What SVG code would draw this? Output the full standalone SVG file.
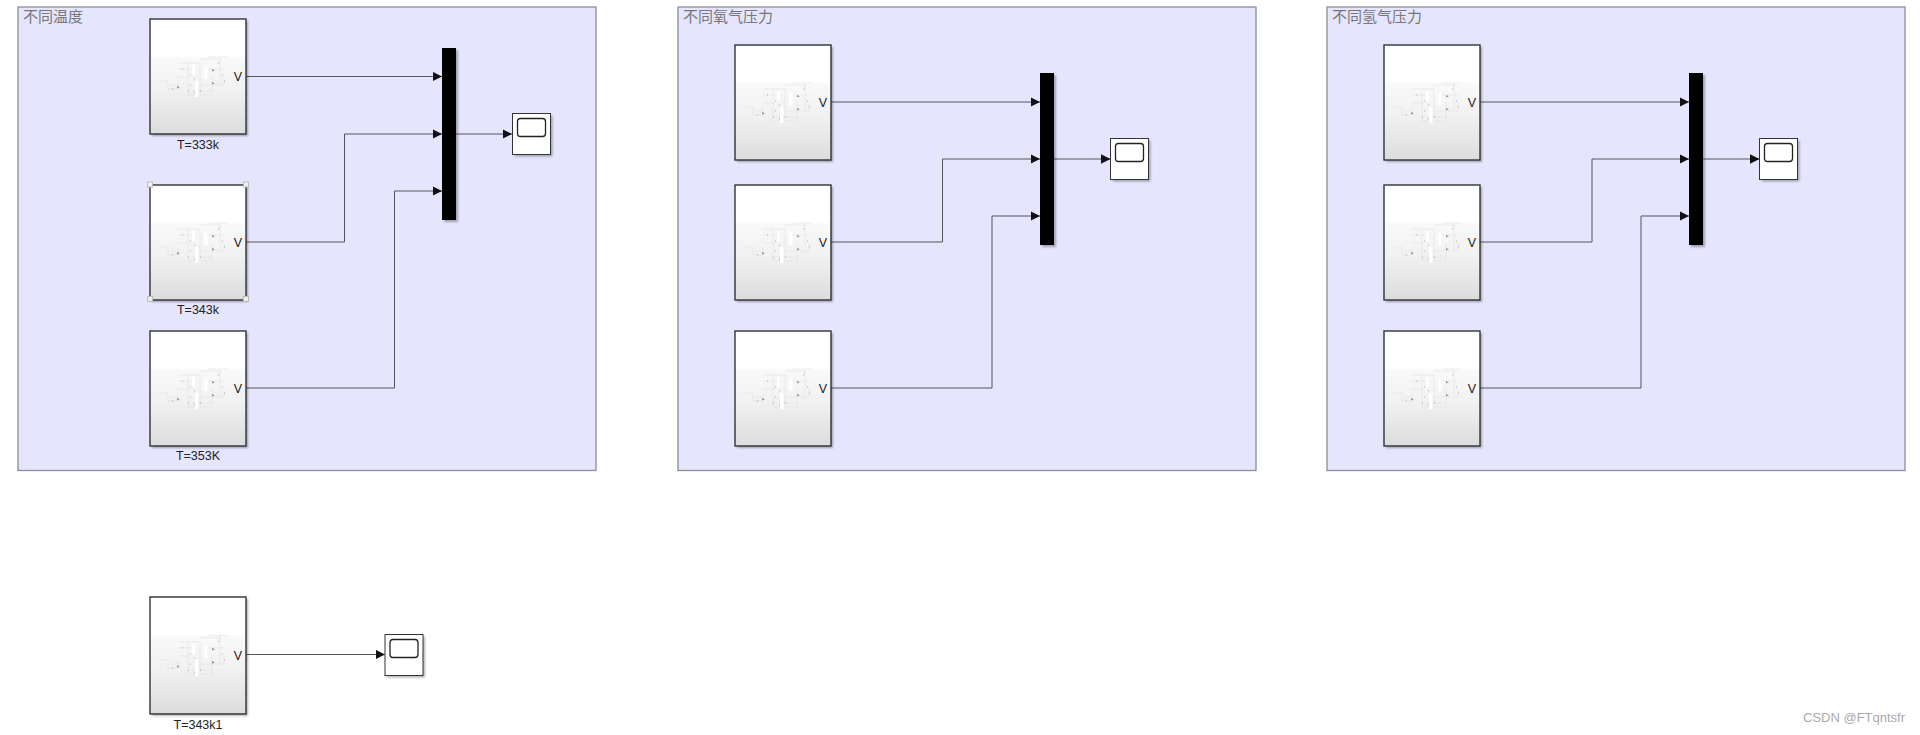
<svg xmlns="http://www.w3.org/2000/svg" width="1920" height="735" viewBox="0 0 1920 735">
<style>
.panel{fill:#e5e5fe;stroke:#8c8c9c;stroke-width:1.3}
.ptitle{font:15px "Noto Sans CJK SC","Liberation Sans",sans-serif;fill:#777}
.lbl{font:12.5px "Liberation Sans",sans-serif;fill:#222;text-anchor:middle}
.v{font:12.5px "Liberation Sans",sans-serif;fill:#222;text-anchor:end}
.blk{fill:url(#g);stroke:#333;stroke-width:1.400}
.sh{fill:#000;opacity:.3;filter:url(#b)}
.wire{fill:none;stroke:#55555f;stroke-width:1;marker-end:url(#a)}
.th{fill:none;stroke:#dedede;stroke-width:.5}
.sel{fill:#eee;stroke:#bbb;stroke-width:1}
</style>
<defs>
<linearGradient id="g" x1="0" y1="0" x2="0" y2="1">
<stop offset="0" stop-color="#fff"/><stop offset=".32" stop-color="#fff"/><stop offset=".34" stop-color="#f9f9f9"/><stop offset=".62" stop-color="#f1f1f1"/><stop offset="1" stop-color="#dcdcdc"/>
</linearGradient>
<filter id="b" x="-20%" y="-20%" width="140%" height="140%"><feGaussianBlur stdDeviation="1"/></filter>
<marker id="a" markerUnits="userSpaceOnUse" markerWidth="10" markerHeight="10" refX="9.500" refY="5" orient="auto"><path d="M0 0.200L9.500 5L0 9.800Z" fill="#111"/></marker>
<g id="thumb">
<path class="th" d="M10 62H18V70H28V68M20 66H28M28 44H50V72M28 50H46M28 58H40M28 62V70M38 44V76H58M50 40H70V66M58 38H78M58 50H74M50 66H74V58M42 72H62M62 58V78M70 38V44"/>
<rect x="45" y="62" width="3.500" height="16" fill="#fff"/><rect x="54" y="48" width="3.500" height="12" fill="#fff"/><rect x="42" y="46" width="3" height="10" fill="#fff"/>
<path d="M27 67l3 1.300l-3 1.300zM62 50l3 1.300l-3 1.300zM62 63l3 1.300l-3 1.300z" fill="#999"/>
<path d="M22 70h1M32 50h1M40 56h1M40 66h1M44 60h1M38 72h1M44 74h1M50 72h1M68 44h1M72 56h1M74 62h1" stroke="#999" stroke-width=".8"/>
</g>
<g id="sub">
<rect class="sh" x="2" y="2" width="96" height="115"/>
<rect class="blk" width="96" height="115"/>
<use href="#thumb"/>
<text class="v" x="92" y="62">V</text>
</g>
<g id="muxb"><rect class="sh" x="2" y="2" width="14" height="172"/><rect width="14" height="172" fill="#000"/></g>
<g id="scopeb">
<rect class="sh" x="2" y="2" width="38" height="41"/>
<rect width="38" height="41" fill="#fff" stroke="#333" stroke-width="1"/>
<rect x="5" y="5" width="28" height="18" rx="3" fill="#fff" stroke="#222" stroke-width="1.300"/>
</g>
</defs>
<rect width="1920" height="735" fill="#fff"/>

<g id="panel-temp"><rect class="panel" x="18" y="7" width="578" height="463.500"/><text class="ptitle" x="23" y="22">不同温度</text></g>
<g id="panel-o2"><rect class="panel" x="678" y="7" width="578" height="463.500"/><text class="ptitle" x="683" y="22">不同氧气压力</text></g>
<g id="panel-h2"><rect class="panel" x="1327" y="7" width="578" height="463.500"/><text class="ptitle" x="1332" y="22">不同氢气压力</text></g>

<g id="connectors">
<path class="wire" d="M246 76.500H442"/>
<path class="wire" d="M246 242H344.500V134H442"/>
<path class="wire" d="M246 388H394.500V191H442"/>
<path class="wire" d="M456 134H512"/>
<path class="wire" d="M831 102H1040"/>
<path class="wire" d="M831 242H942.500V159H1040"/>
<path class="wire" d="M831 388H992V216H1040"/>
<path class="wire" d="M1054 159H1110.500"/>
<path class="wire" d="M1480 102H1689"/>
<path class="wire" d="M1480 242H1592V159H1689"/>
<path class="wire" d="M1480 388H1641V216H1689"/>
<path class="wire" d="M1703 159H1759.500"/>
<path class="wire" d="M246 654.500H385"/>
</g>

<g id="t333"><use href="#sub" x="150" y="19"/><text class="lbl" x="198" y="149">T=333k</text></g>
<g id="t343"><use href="#sub" x="150" y="185"/>
<rect class="sel" x="147.500" y="182" width="5" height="5"/><rect class="sel" x="243.500" y="182" width="5" height="5"/><rect class="sel" x="147.500" y="296.500" width="5" height="5"/><rect class="sel" x="243.500" y="296.500" width="5" height="5"/>
<text class="lbl" x="198" y="314">T=343k</text></g>
<g id="t353"><use href="#sub" x="150" y="331"/><text class="lbl" x="198" y="460">T=353K</text></g>
<g id="mux1"><use href="#muxb" x="442" y="48"/></g>
<g id="scope1"><use href="#scopeb" x="512.500" y="113.500"/></g>

<g id="o1"><use href="#sub" x="735" y="45"/></g>
<g id="o2"><use href="#sub" x="735" y="185"/></g>
<g id="o3"><use href="#sub" x="735" y="331"/></g>
<g id="mux2"><use href="#muxb" x="1040" y="73"/></g>
<g id="scope2"><use href="#scopeb" x="1110.500" y="138.500"/></g>

<g id="h1"><use href="#sub" x="1384" y="45"/></g>
<g id="h2"><use href="#sub" x="1384" y="185"/></g>
<g id="h3"><use href="#sub" x="1384" y="331"/></g>
<g id="mux3"><use href="#muxb" x="1689" y="73"/></g>
<g id="scope3"><use href="#scopeb" x="1759.500" y="138.500"/></g>

<g id="t3431"><use href="#sub" transform="translate(150 597) scale(1 1.017)"/><text class="lbl" x="198" y="729">T=343k1</text></g>
<g id="scope4"><use href="#scopeb" x="385" y="634.500"/></g>
<text x="1803" y="722" font-family="Liberation Sans, sans-serif" font-size="13" fill="#aaa">CSDN @FTqntsfr</text>
</svg>
